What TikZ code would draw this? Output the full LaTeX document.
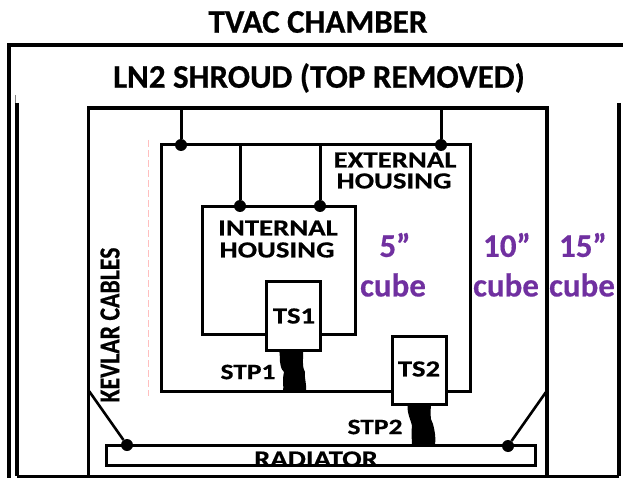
\documentclass[tikz,border=0pt]{standalone}
\usepackage{fontspec}
\setmainfont{Carlito}
\newfontfamily\titlefont{Carlito Bold}[FakeBold=0.6]
\newfontfamily\widefont{Carlito Bold}[FakeBold=0.5,FakeStretch=1.25]
\newfontfamily\tallfont{Carlito Bold}[FakeBold=0.5,FakeStretch=0.82]
\newfontfamily\cubefont{Carlito Bold}[FakeBold=0.4]
\definecolor{cubepurple}{RGB}{112,48,160}
\tikzset{
  boxnode/.style={draw=black,line width=3pt,fill=white,inner sep=0pt,outer sep=0pt,anchor=north west},
  joint/.style={circle,fill=black,draw=none,minimum size=12pt,inner sep=0pt},
  wire/.style={line width=3pt},
  lab/.style={font=\titlefont\fontsize{#1}{#1}\selectfont,text=black,inner sep=0pt,align=center},
  widelab/.style={font=\widefont\fontsize{#1}{#1}\selectfont,text=black,inner sep=0pt,align=center},
  talllab/.style={font=\tallfont\fontsize{#1}{#1}\selectfont,text=black,inner sep=0pt,align=center},
  cubelab/.style={font=\cubefont\fontsize{33pt}{33pt}\selectfont,text=cubepurple,inner sep=0pt},
  cable/.style={fill=black,draw=none}
}
\begin{document}
\begin{tikzpicture}[x=1pt,y=-1pt]
\useasboundingbox (0,0) rectangle (623,478);
% chamber
\coordinate (chTL) at (9,45);
\coordinate (chTR) at (623,45);
\coordinate (chBL) at (9,478);
\draw[line width=3.2pt] (chBL) -- (chTL) -- (chTR);
% shroud
\coordinate (shL) at (17,103);
\coordinate (shBL) at (17,476);
\coordinate (shR) at (619,103);
\coordinate (shBR) at (619,476);
\draw[line width=4.2pt] (shL) -- (shBL);
\draw[line width=0.5pt,gray] (15,95) -- (15,103);
\draw[line width=3.6pt] (shR) -- (shBR);
\draw[wire] (shBL) -- (shBR);
% 10 inch box
\coordinate (tenTL) at (88.5,108);
\coordinate (tenTR) at (547,108);
\coordinate (tenBL) at (88.5,476);
\coordinate (tenBR) at (547,476);
\draw[line width=3.4pt] (tenBL) -- (tenTL) -- (tenTR) -- (tenBR);
% pink dashes
\draw[line width=0.6pt,draw=red!25,dash pattern=on 7pt off 3pt] (148.5,140) -- (148.5,396);
% external housing
\node[boxnode,minimum width=309pt,minimum height=246pt] (ext) at (161,145) {};
% internal housing
\node[boxnode,minimum width=153pt,minimum height=128pt] (int) at (202.5,206.5) {};
% radiator
\node[boxnode,minimum width=429pt,minimum height=20pt] (rad) at (106,445) {};
% cables
\fill[cable] (279,350) .. controls (281,358) and (278,366) .. (284,372)
  .. controls (282,380) and (284,386) .. (283,392) -- (306,392)
  .. controls (307,384) and (304,378) .. (305,372)
  .. controls (301,364) and (304,358) .. (303,350) -- cycle;
\fill[cable] (408,403) .. controls (406,412) and (411,420) .. (412,426)
  .. controls (411,434) and (412,440) .. (412,445) -- (435,445)
  .. controls (436,438) and (435,432) .. (433,424)
  .. controls (429,418) and (431,410) .. (431,403) -- cycle;
% sensors
\node[boxnode,minimum width=54pt,minimum height=69pt] (ts1) at (266,281) {};
\node[widelab=23pt] at (294,316) {TS1};
\node[boxnode,minimum width=54pt,minimum height=68pt] (ts2) at (392,336) {};
\node[widelab=23pt] at (419,369) {TS2};
% joints and hangers
\node[joint] (j1) at (181,145) {};
\node[joint] (j2) at (441,145) {};
\node[joint] (j3) at (240,206) {};
\node[joint] (j4) at (320,206) {};
\node[joint] (j5) at (127,445) {};
\node[joint] (j6) at (508,446) {};
\coordinate (a1) at (181,108);
\coordinate (a2) at (441,108);
\coordinate (a3) at (240,145);
\coordinate (a4) at (320,145);
\coordinate (a5) at (89,391);
\coordinate (a6) at (546,392);
\draw[wire] (a1) -- (j1);
\draw[wire] (a2) -- (j2);
\draw[wire] (a3) -- (j3);
\draw[wire] (a4) -- (j4);
\draw[line width=2.6pt] (a5) -- (j5);
\draw[line width=2.6pt] (a6) -- (j6);
% labels
\node[lab=33pt] at (318,22) {TVAC CHAMBER};
\node[lab=33pt] at (319,78) {LN2 SHROUD (TOP REMOVED)};
\node[widelab=23pt] at (395,160) {EXTERNAL};
\node[widelab=23pt] at (394,181) {HOUSING};
\node[widelab=23pt] at (278,228) {INTERNAL};
\node[widelab=23pt] at (277,250) {HOUSING};
\node[widelab=22pt] at (248,372) {STP1};
\node[widelab=22pt] at (375,427) {STP2};
\node[talllab=29pt,rotate=90] at (110,325) {KEVLAR CABLES};
\begin{scope}
\clip (108,447) rectangle (533,463.5);
\node[widelab=23pt] at (316,459) {RADIATOR};
\end{scope}
\node[cubelab] at (395,245) {5”};
\node[cubelab] at (393,285) {cube};
\node[cubelab] at (507,245) {10”};
\node[cubelab] at (506,285) {cube};
\node[cubelab] at (583,245) {15”};
\node[cubelab] at (582,285) {cube};
\end{tikzpicture}
\end{document}
